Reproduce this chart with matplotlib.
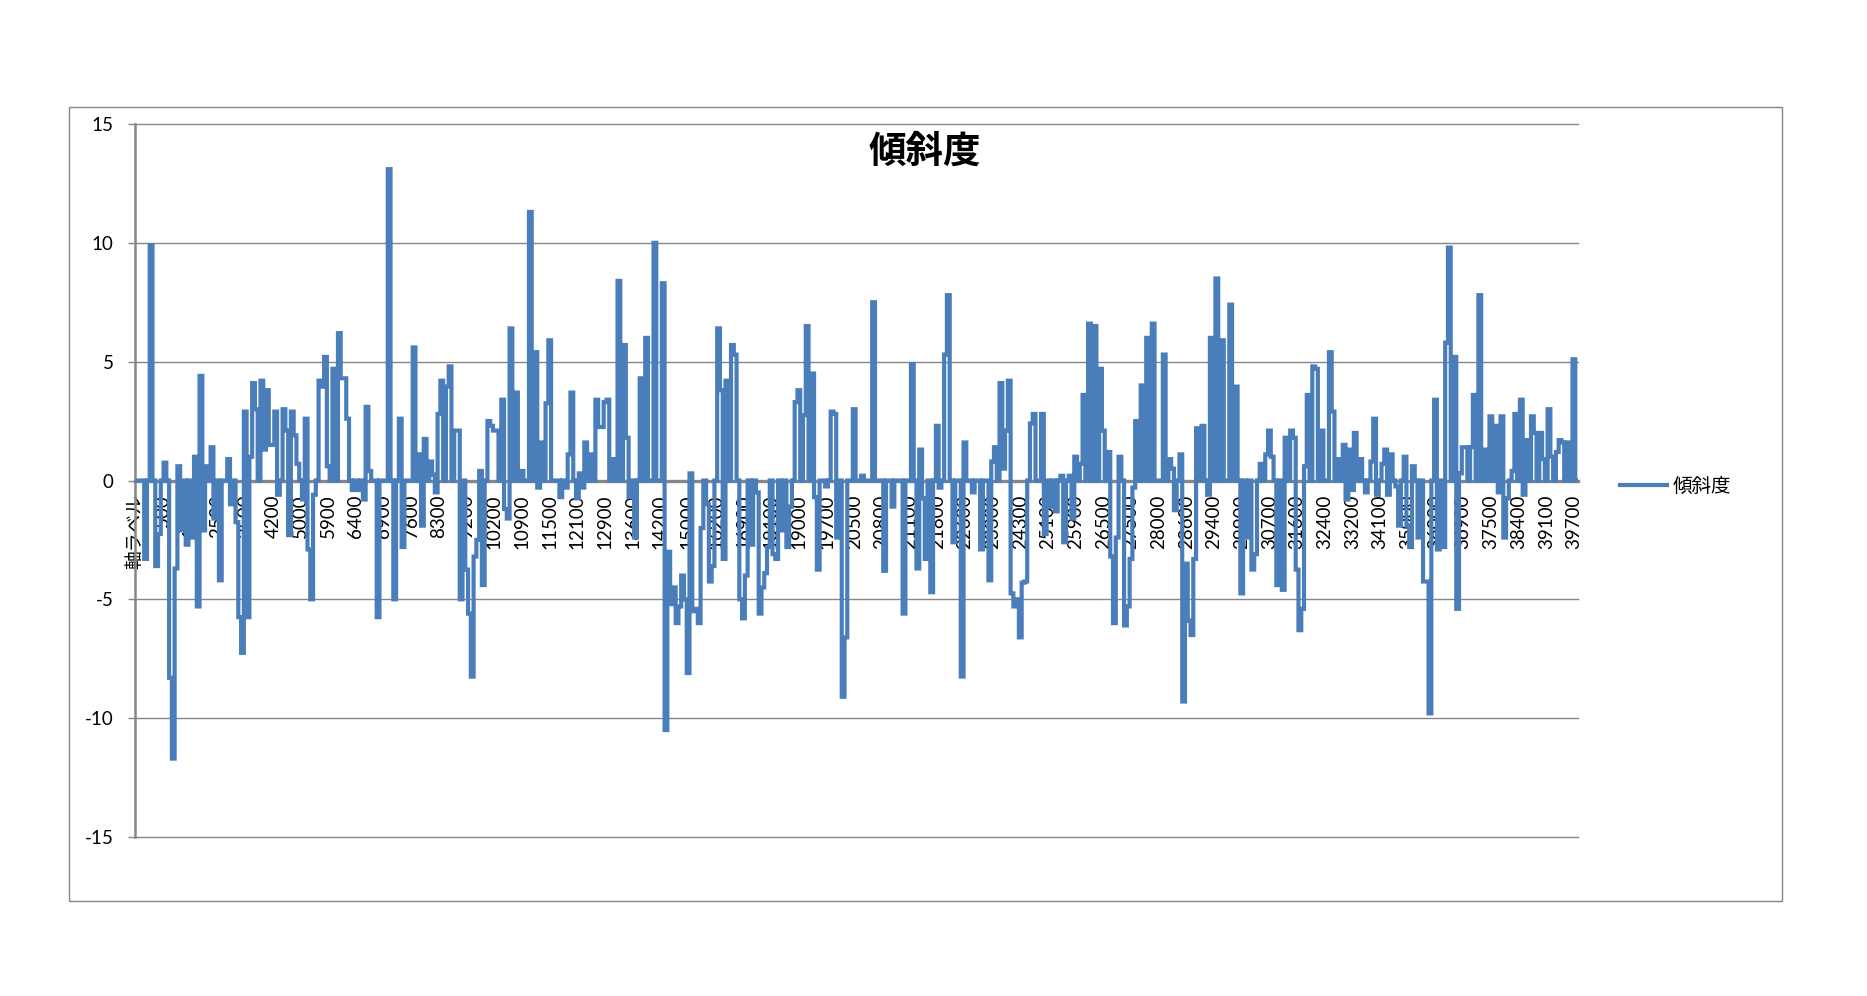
import matplotlib
matplotlib.use("Agg")
import matplotlib.pyplot as plt
import numpy as np
from matplotlib.lines import Line2D
from matplotlib.patches import Rectangle

plt.rcParams['font.family'] = ['Lato', 'Noto Sans CJK JP', 'DejaVu Sans']
plt.rcParams['axes.unicode_minus'] = False

title = "傾斜度"
series_name = "傾斜度"

# Category tick labels, one every 10 categories
tick_labels = ["軸ラベル", "500", "1500", "2500", "3500", "4200", "5000", "5900", "6400", "6900", "7600",
               "8300", "9200", "10200", "10900", "11500", "12100", "12900", "13600", "14200", "15000",
               "16200", "16900", "18100", "19000", "19700", "20500", "20800", "21100", "21800", "22600",
               "23300", "24300", "25100", "25900", "26500", "27500", "28000", "28600", "29400", "29900",
               "30700", "31600", "32400", "33200", "34100", "35000", "36000", "36900", "37500", "38400",
               "39100", "39700"]

# slope values per category
slope_values = [
    0, 0, 0, 0, -3.3, 0, 9.9, 0, -3.6, -2.25,
    0, 0.75, 0, -8.3, -11.7, -3.7, 0.6, -2.1, 0, -2.7,
    0, -2.4, 1.0, -5.3, 4.4, -2.1, 0.6, 0, 1.4, -1.6,
    0, -4.2, 0, 0, 0.9, -1.0, 0, -1.75, -5.75, -7.25,
    2.9, -5.75, 1.0, 4.1, 3.0, 0, 4.2, 1.3, 3.8, 1.5,
    1.5, 2.9, -0.6, 0, 3.0, 2.1, -2.3, 2.9, 1.9, 0.7,
    0, -0.8, 2.6, -2.9, -5.0, -0.6, 0, 4.2, 3.95, 5.2,
    0.6, 0, 4.7, 0, 6.2, 4.3, 4.3, 2.6, 0, -0.4,
    0, -0.4, 0, -0.8, 3.1, 0.4, 0, 0, -5.75, 0,
    0, 0, 13.1, 0, -5.0, 0, 2.6, -2.8, 0, 0,
    0, 5.6, 0, 1.1, -1.9, 1.75, 0, 0.8, 0.25, -0.5,
    2.8, 4.2, 0, 3.95, 4.8, 0, 2.1, 2.1, -5.0, 0,
    -3.75, -5.6, -8.25, -3.2, -2.5, 0.4, -4.4, 0, 2.5, 2.3,
    2.1, 2.1, 0, 3.4, -1.2, -1.6, 6.4, 0, 3.7, 0,
    0.4, 0, 0, 11.3, 0, 5.4, -0.3, 1.6, 0, 3.25,
    5.9, 0, 0, 0, -0.7, 0, -0.3, 1.1, 3.7, 0,
    -0.75, 0.3, -0.3, 1.6, 0, 1.1, 0, 3.4, 2.25, 2.25,
    3.3, 3.4, 0, 0.9, 0, 8.4, 0, 5.7, 1.8, -0.7,
    0, -2.4, 0, 4.3, 0, 6.0, 0, 0, 10.0, 0,
    0, 8.3, -10.5, -3.0, -5.2, -4.5, -6.0, -5.3, -4.0, -5.0,
    -8.1, 0.3, -5.5, -5.4, -6.0, -2.0, 0, -1.0, -4.25, -3.6,
    0, 6.4, 3.8, -3.3, 4.2, 0, 5.7, 5.3, 0, -5.0,
    -5.8, -4.0, 0, -2.7, 0, -0.5, -5.6, -4.5, -3.9, -2.8,
    0, -3.1, -3.3, 0, -2.1, 0, -2.8, -1.1, 0, 3.3,
    3.8, 0, 2.75, 6.5, 0, 4.5, -0.7, -3.75, 0, 0,
    -0.25, 0, 2.9, 2.8, -2.4, 0, -9.1, -6.6, 0, 0,
    3.0, 0, 0, 0.2, 0, 0, 0, 7.5, 0, 0,
    0, -3.8, 0, 0, -1.1, 0, 0, 0, -5.6, 0,
    0, 4.9, 0, -3.7, 1.3, -0.75, -3.3, 0, -4.7, 0,
    2.3, -0.3, 0, 5.3, 7.8, 0, -2.6, 0, 0, -8.25,
    1.6, 0, 0, -0.5, 0, 0, -2.9, 0, 0, -4.2,
    0.8, 1.4, 0, 4.1, 0.5, 2.1, 4.2, -4.75, -5.3, -5.0,
    -6.6, -4.3, -4.25, 0, 2.4, 2.8, 0, 0, 2.8, -2.25,
    0, -1.1, 0, -1.3, 0, 0.2, -2.6, 0, 0.2, -1.6,
    1.0, 0, 0.7, 3.6, 0, 6.6, 0, 6.5, 0, 4.7,
    2.1, 0, 1.2, -3.2, -6.0, -2.4, 1.0, 0, -6.1, -5.3,
    -3.3, -0.3, 2.5, 0, 4.0, 0, 6.0, 0, 6.6, 0,
    0, 0, 5.3, 0, 0.9, 0.5, -1.25, 0, 1.1, -9.3,
    -3.5, -5.9, -6.5, -3.3, 2.2, 0, 2.3, 0, -0.6, 6.0,
    0, 8.5, 0, 5.9, 0, 0, 7.4, 0, 3.95, 0,
    -4.75, 0, -2.4, 0, -3.75, -3.1, 0, 0.7, 0, 1.1,
    2.1, 1.0, 0, -4.4, 0, -4.6, 1.8, 0, 2.1, 1.8,
    -3.75, -6.3, -5.4, 0.6, 3.6, 0, 4.8, 4.7, 0, 2.1,
    0, 0, 5.4, 2.9, 0, 0.9, 0, 1.5, -0.8, 1.3,
    -0.4, 2.0, 0, 0.9, 0, -0.5, 0, 0.8, 2.6, -0.6,
    0, 0.7, 1.3, -0.6, 1.1, 0, -0.25, -1.9, 0, 1.0,
    -1.9, -2.8, 0.6, 0, -2.4, 0, -4.25, -4.25, -9.8, 0,
    3.4, -2.9, 0, -2.8, 5.8, 9.8, 0, 5.2, -5.4, 0.3,
    1.4, 1.4, 0, 1.4, 3.6, 0, 7.8, 0, 1.3, 0,
    2.7, 0, 2.3, -0.5, 2.7, -2.4, -0.75, 0, 0.4, 2.8,
    0, 3.4, -0.6, 1.7, 0, 2.7, 2.0, 0, 2.0, 0.9,
    0, 3.0, 1.0, 0, 1.2, 1.7, 1.6, 0, 1.6, 0,
    5.1, 0,
]

y_ticks = [-15, -10, -5, 0, 5, 10, 15]

W, H = 1867, 996
fig = plt.figure(figsize=(W / 100, H / 100), dpi=100)
fig.patch.set_facecolor('white')

left, right = 134.5 / W, 1577.5 / W
top, bottom = 1 - 124 / H, 1 - 837 / H
ax = fig.add_axes([left, bottom, right - left, top - bottom])

gray = '#868686'
blue = '#4A7EBB'

# spines first (set_position resets the ticks)
for s in ['top', 'right']:
    ax.spines[s].set_visible(False)
ax.spines['bottom'].set_position(('data', 0))
ax.spines['bottom'].set_color(gray)
ax.spines['bottom'].set_linewidth(2.4)
ax.spines['bottom'].set_zorder(2)
ax.spines['left'].set_color(gray)
ax.spines['left'].set_linewidth(1.8)

x = np.arange(len(slope_values))
ax.plot(x, slope_values, color=blue, lw=3.0, drawstyle='steps-mid',
        solid_joinstyle='miter', zorder=3)

ax.set_xlim(0, 521.3)
ax.set_ylim(-15, 15)
ax.set_yticks(y_ticks)
ax.set_yticklabels([str(v) for v in y_ticks])
ax.set_xticks(np.arange(len(tick_labels)) * 10)
ax.set_xticklabels(tick_labels)

ax.yaxis.grid(True, color=gray, lw=1.0)
ax.set_axisbelow(True)
for gl in ax.get_ygridlines():
    gl.set_clip_on(False)

ax.tick_params(axis='x', length=0, pad=10, labelrotation=90, labelsize=13.5)
ax.tick_params(axis='y', length=5, width=1.0, color=gray, pad=10, labelsize=13.5)

fig.text(925 / W, 1 - 151 / H, title, ha='center', va='center', fontsize=27,
         fontweight='bold', family=['Noto Sans CJK JP'])

handle = Line2D([0], [0], color=blue, lw=3.0)
fig.legend([handle], [series_name], loc='center left',
           bbox_to_anchor=(1620 / W, 1 - 486 / H), frameon=False,
           borderaxespad=0, borderpad=0, handlelength=2.4, handletextpad=0.3,
           prop={'family': ['Noto Sans CJK JP'], 'size': 14})

fig.add_artist(Rectangle((69 / W, 1 - 901 / H), (1782 - 69) / W, (901 - 107) / H,
                         transform=fig.transFigure, fill=False, edgecolor=gray, lw=1.0))

fig.savefig('out.png', dpi=100, facecolor='white')
